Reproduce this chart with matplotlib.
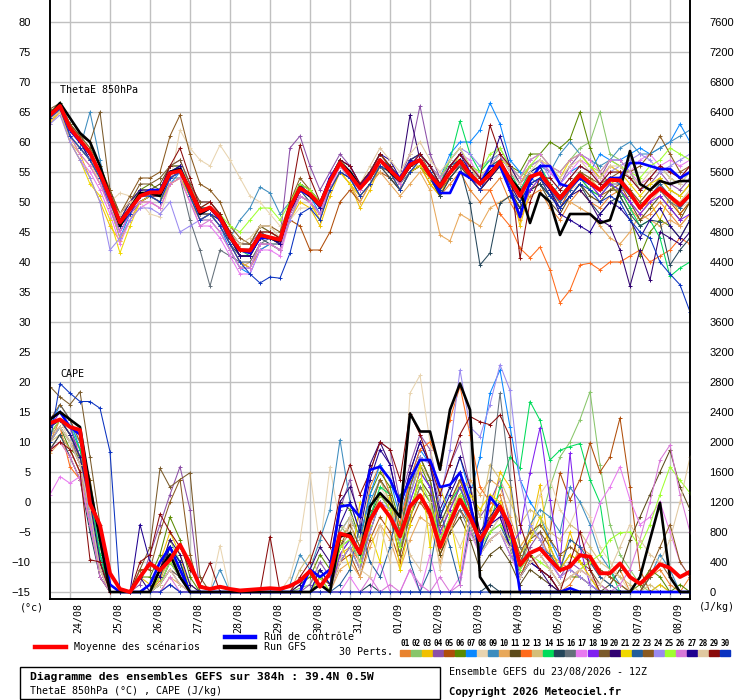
import numpy as np
import matplotlib
matplotlib.use('Agg')
import matplotlib.pyplot as plt
from matplotlib.lines import Line2D
from matplotlib.patches import Rectangle

plt.rcParams['font.family'] = ['Liberation Sans', 'DejaVu Sans']
MONO = 'DejaVu Sans Mono'

W, H = 740, 700

# 6-hourly steps, 23/08 12Z -> +384h
HOURS = np.arange(0, 385, 6)
DAYS = ['24/08', '25/08', '26/08', '27/08', '28/08', '29/08', '30/08', '31/08',
        '01/09', '02/09', '03/09', '04/09', '05/09', '06/09', '07/09', '08/09']
PERT_COLORS = ['#e8822e', '#88c66a', '#f0c000', '#8c4fa8', '#b04e0a', '#5a8a00',
               '#0a88ff', '#e8d4b0', '#3c8cbe', '#e8a85a', '#5c4a1a', '#ff6a1a',
               '#d4be78', '#00dc5a', '#24465a', '#64707a', '#e87af0', '#8020f0',
               '#7a5a2a', '#300070', '#f0d800', '#225e9a', '#8a5a20', '#9a8af0',
               '#a0ff30', '#d878d8', '#200090', '#e0c8a0', '#8a0a0a', '#0a32c0']

# ThetaE 850hPa (degC), perturbations 01..30
T01 = [64, 65.5, 61, 59, 57, 53, 50, 45, 48, 50, 51, 50, 53, 54, 51, 47, 48, 46, 43, 40, 39, 42,
       43, 42, 48, 51, 50, 48, 52, 55, 53, 51, 53, 56, 54, 52, 55, 56, 53, 51, 53, 55,
       52, 50, 52, 54, 50, 47, 51, 52, 49, 47, 50, 52, 50, 49, 51, 52, 49, 47, 48, 50, 48, 46, 48]
T02 = [65, 66.5, 63, 61, 59, 56, 52, 47, 49, 52, 52, 52, 56, 56, 53, 49, 50, 48, 45, 43, 43, 46,
       45, 44, 50, 53, 52, 50, 54, 57, 55, 53, 55, 58, 56, 54, 57, 58, 56, 54, 56, 58,
       56, 55, 57, 59, 56, 54, 57, 58, 56, 55, 57, 59, 60, 65, 58, 57, 55, 52, 54, 56, 54, 53, 55]
T03 = [63.5, 65, 61, 58, 54, 50, 46, 43.5, 47, 50, 51, 50, 54, 55, 52, 48, 49, 47, 44, 41, 41, 44,
       44, 43, 47, 50, 49, 46, 51, 55, 53, 49, 52, 56, 55, 53, 56, 56, 53, 51, 55, 58,
       56, 54, 56, 57, 53, 46, 52, 54, 51, 50, 53, 55, 54, 52, 53, 54, 51, 49, 50, 47, 51, 48, 50]
T04 = [64, 66, 62, 60, 58, 55, 51, 47, 49, 51, 52, 52, 56, 57, 53, 50, 50, 48, 45, 43, 43, 45,
       45, 44, 59, 61, 56, 52, 55, 58, 56, 53, 55, 58, 56, 54, 58, 66, 58, 54, 56, 57,
       55, 54, 56, 58, 55, 53, 56, 57, 55, 53, 56, 58, 56, 54, 57, 56, 54, 52, 53, 55, 53, 52, 54]
T05 = [64, 65.5, 61, 59, 57, 54, 50, 46, 48, 50, 51, 51, 54, 55, 51, 48, 48, 47, 44, 41, 41, 44,
       44, 43, 47, 46, 42, 42, 45, 50, 52, 50, 53, 55, 54, 52, 55, 56, 54, 52, 54, 56,
       54, 52, 54, 56, 52, 49, 52, 53, 51, 49, 52, 54, 52, 51, 52, 53, 50, 48, 50, 52, 50, 48, 50]
T06 = [65, 66, 63, 60, 58, 55, 51, 47, 50, 52, 53, 52, 55, 56, 52, 49, 49, 47, 44, 42, 42, 45,
       44, 44, 49, 53, 51, 50, 54, 57, 55, 52, 54, 57, 56, 54, 56, 57, 55, 53, 55, 57,
       56, 54, 56, 57, 56, 55, 58, 58, 60, 59, 60.5, 65, 59, 55, 53, 51, 48, 41, 45, 47, 46, 44, 47]
T07 = [64.5, 66, 62, 60, 57, 54, 49, 44, 48, 50, 51, 50, 53, 55, 51, 47, 48, 46, 42, 39, 38, 42,
       43, 42, 48, 52, 51, 48, 53, 56, 54, 52, 54, 57, 55, 53, 56, 58, 56, 54, 58, 60,
       60, 62, 66.5, 63, 57, 55, 54, 53, 51, 53, 55, 56, 55, 58, 57, 57, 58, 59, 58, 59, 60, 63, 60]
T08 = [64, 65, 61, 59, 57, 53, 50, 51.5, 51, 50, 48, 47.5, 53, 62, 59, 57, 56, 59.5, 57, 54, 51, 50,
       48, 46, 47, 49, 49, 48, 52, 55, 54, 52, 54, 57, 55, 53, 56, 57, 55, 53, 55, 56,
       55, 53, 55, 56, 53, 51, 53, 54, 52, 50, 52, 53, 51, 50, 52, 52, 50, 48, 50, 52, 50, 49, 50]
T09 = [64, 66, 61, 59, 65, 57, 50, 47, 49, 51, 52, 51, 55, 56, 52, 48, 49, 47, 44, 47, 49, 52.5,
       51.5, 48, 50, 53, 52, 50, 54, 57, 55, 53, 55, 58, 56, 53, 56, 57, 54, 52, 55, 57,
       55, 53, 55, 57, 54, 52, 55, 56, 55, 58, 60, 58, 57, 56, 57, 59, 60, 58, 58, 59, 60, 61, 62]
T10 = [63, 65, 60, 58, 56, 53, 49, 44, 47, 50, 50, 49, 53, 54, 50, 47, 47, 45, 42, 39, 40, 43,
       43, 42, 47, 51, 50, 47, 52, 55, 53, 50, 53, 55, 53, 51, 53, 55, 52, 44.5, 43.5, 48,
       47, 46, 49, 50, 51, 49, 53, 54, 53, 51, 50, 49, 48, 46, 44, 43, 45, 48, 47, 46, 47, 46, 48]
T11 = [65, 66, 62, 60, 58, 54, 51, 48, 50, 52, 52, 53, 56, 56, 52, 48, 49, 47, 44, 41, 41, 44,
       44, 44, 49, 53, 51, 49, 53, 56, 54, 52, 54, 57, 55, 52, 55, 56, 54, 51, 54, 56,
       54, 52, 54, 56, 52, 49, 52, 53, 50, 48, 51, 53, 51, 50, 52, 52, 50, 47, 49, 51, 49, 47, 50]
T12 = [64, 65.5, 62, 60, 58, 55, 51, 46, 49, 51, 51, 51, 54, 55, 52, 48, 49, 47, 44, 42, 42, 44,
       44, 43, 49, 52, 51, 49, 53, 56, 54, 52, 54, 56, 55, 53, 56, 57, 54, 52, 55, 57,
       54, 52, 52, 48, 46, 42.3, 40.7, 42.5, 38.7, 33.2, 35.3, 39.5, 39.8, 38.7, 40, 40,
       41, 42, 40, 41, 42, 44, 43]
T13 = [64, 65, 61, 59, 57, 54, 50, 47, 50, 52, 52, 51, 55, 55, 51, 48, 49, 47, 44, 42, 42, 45,
       45, 44, 49, 52, 51, 49, 53, 56, 55, 53, 55, 57, 56, 53, 56, 57, 55, 52, 55, 57,
       56, 53, 55, 57, 53, 50, 54, 55, 53, 51, 53, 55, 54, 52, 54, 54, 52, 50, 52, 53, 51, 50, 52]
T14 = [64.5, 66, 62, 60, 58, 55, 51, 47, 49, 51, 52, 51, 55, 55, 52, 48, 49, 47, 44, 42, 41, 44,
       44, 43, 49, 52, 51, 49, 53, 57, 55, 53, 55, 57, 56, 54, 57, 58, 56, 53, 57, 63.5,
       58, 55, 57, 58, 55, 52, 55, 56, 53, 51, 53, 54, 52, 51, 53, 52, 49, 46, 47, 44, 37.6, 39, 40]
T15 = [64, 65.5, 61, 59, 57, 54, 50, 46, 48, 50, 51, 50, 54, 55, 51, 48, 48, 47, 43, 41, 41, 44,
       43, 43, 48, 52, 50, 48, 52, 55, 54, 51, 53, 56, 54, 52, 55, 56, 54, 51, 54, 56,
       49.8, 39.5, 41.5, 49.8, 51, 49, 52, 53, 51, 49, 51, 53, 50, 48, 50, 51, 48, 46, 47, 46.7,
       39.5, 42, 44]
T16 = [64, 65.5, 61, 59, 57, 54, 50, 46, 48, 50, 51, 50, 54, 54, 47, 42, 36, 42, 41, 40, 40, 43,
       44, 43, 48, 51, 50, 48, 52, 55, 54, 52, 54, 56, 55, 53, 55, 57, 55, 53, 55, 56,
       55, 53, 55, 57, 54, 52, 54, 55, 53, 51, 53, 55, 53, 51, 53, 53, 51, 49, 51, 52, 50, 49, 51]
T17 = [63.5, 65, 60, 57, 55, 52, 48, 43, 47, 49, 50, 49, 53, 54, 50, 46, 46, 44, 41, 38, 38, 42,
       42, 41, 47, 51, 50, 48, 52, 56, 54, 52, 54, 57, 55, 53, 56, 57, 55, 53, 56, 58,
       57, 54, 56, 58, 55, 53, 56, 57, 55, 53, 55, 57, 56, 53, 56, 55, 55, 57, 58, 56, 57, 56, 57]
T18 = [64, 66, 62, 60, 58, 54, 49, 45, 48, 50, 51, 50, 54, 55, 51, 47, 48, 46, 43, 40, 39, 43,
       43, 42, 48, 52, 51, 49, 54, 57, 56, 53, 55, 58, 56, 54, 57, 58, 56, 54, 57, 59,
       55, 53, 56, 58, 52, 48, 52, 54, 52, 50, 52, 54, 53, 51, 53, 52, 50, 48, 50, 51, 49, 47, 48]
T19 = [65.5, 66.5, 63, 61, 60, 65, 52, 48, 50, 53, 53, 54, 56, 57, 53, 50, 50, 48, 45, 43, 43, 46,
       45, 44, 50, 53, 52, 50, 54, 57, 55, 53, 55, 58, 56, 54, 56, 58, 55, 53, 55, 57,
       55, 53, 55, 57, 54, 51, 54, 55, 53, 51, 53, 55, 53, 52, 54, 54, 52, 50, 52, 54, 52, 51, 53]
T20 = [64, 66, 62, 60, 57, 54, 50, 46, 49, 51, 51, 51, 54, 55, 52, 48, 49, 47, 44, 41, 41, 44,
       44, 43, 48, 52, 51, 49, 53, 57, 55, 52, 55, 57, 56, 54, 64.5, 57, 55, 52, 55, 57,
       54, 52, 54, 56, 53, 50, 53, 54, 52, 49, 51, 52, 50, 47, 46, 42, 36, 42, 37, 45, 44, 43, 45]
T21 = [63.5, 65, 60, 57, 53, 51, 47, 41.5, 46, 50, 51, 50, 53, 54, 51, 47, 48, 46, 43, 40, 39, 43,
       43, 42, 47, 51, 50, 47, 52, 55, 53, 51, 53, 56, 55, 52, 55, 56, 54, 52, 55, 57,
       55, 53, 55, 57, 56, 53, 56, 57, 56, 54, 57, 58, 56, 54, 56, 55, 53, 51, 53, 54, 52, 51, 53]
T22 = [64.5, 66, 62, 60, 58, 55, 51, 47, 49, 51, 52, 52, 55, 56, 52, 49, 49, 47, 44, 42, 42, 45,
       44, 44, 49, 53, 51, 50, 54, 57, 55, 53, 55, 57, 56, 54, 56, 57, 55, 53, 56, 57,
       55, 53, 56, 57, 53, 51, 54, 55, 52, 50, 52, 54, 53, 52, 54, 53, 51, 49, 51, 53, 51, 49, 51]
T23 = [65, 66, 63, 61, 59, 56, 52, 48, 51, 54, 54, 55, 61, 64.5, 58, 53, 52, 50, 46, 44, 43, 46,
       46, 45, 50, 54, 52, 50, 54, 57, 55, 53, 55, 57, 55, 53, 56, 57, 55, 52, 55, 57,
       55, 53, 55, 57, 54, 51, 54, 55, 53, 51, 53, 55, 54, 53, 54, 55, 55, 56, 58, 61, 58, 55, 56]
T24 = [63, 64.5, 60, 57, 54, 50, 42, 44, 47, 49, 49, 48, 50, 45, 46, 47, 47, 45, 42, 39, 39, 43,
       43, 42, 47, 51, 50, 48, 53, 56, 54, 52, 55, 57, 55, 53, 56, 58, 56, 54, 57, 59,
       58, 56, 57, 58, 56, 54, 56, 57, 54, 52, 54, 56, 55, 53, 55, 56, 57, 58, 57, 55, 56, 57, 58]
T25 = [64, 65.5, 61, 59, 57, 54, 50, 46, 49, 51, 52, 51, 55, 55, 51, 48, 49, 48, 46, 45, 47, 49,
       49, 47, 50, 53, 52, 50, 54, 57, 55, 53, 55, 58, 56, 54, 57, 58, 56, 54, 57, 59,
       56, 55, 58, 59, 56, 54, 56, 58, 56, 55, 57, 58, 56, 55, 57, 56, 55, 54, 56, 57, 59, 58, 57]
T26 = [64, 65.5, 61, 58, 56, 53, 49, 45, 48, 50, 50, 49, 53, 54, 50, 46, 47, 45, 42, 39, 39, 43,
       43, 42, 48, 51, 50, 48, 53, 56, 54, 52, 54, 57, 55, 53, 56, 58, 56, 54, 56, 58,
       56, 54, 56, 58, 56, 54, 57, 58, 56, 55, 57, 58, 57, 55, 57, 57, 55, 53, 54, 56, 55, 54, 56]
T27 = [64.5, 66, 62, 60, 58, 55, 51, 47, 50, 52, 52, 52, 55, 56, 52, 48, 49, 47, 44, 41, 41, 44,
       44, 43, 49, 52, 51, 49, 54, 57, 56, 53, 55, 58, 57, 54, 57, 58, 56, 53, 56, 58,
       55, 53, 56, 61, 56, 53, 55, 56, 52, 48, 47, 46, 45, 48, 50, 49, 47, 44, 47, 49, 46, 44, 47]
T28 = [64, 65, 61, 59, 57, 54, 50, 48, 50, 51, 51, 50, 54, 55, 52, 48, 49, 47, 45, 43, 44, 46,
       46, 44, 49, 52, 51, 50, 54, 56, 55, 53, 56, 59, 57, 55, 58, 60, 57, 55, 57, 59,
       56, 54, 56, 58, 55, 53, 55, 57, 56, 54, 56, 57, 55, 54, 56, 56, 54, 53, 55, 56, 54, 53, 55]
T29 = [64.5, 66, 62, 60, 58, 55, 51, 47, 49, 51, 52, 52, 56, 59, 54, 49, 50, 48, 45, 42, 42, 45,
       45, 44, 50, 59.5, 54, 50, 54, 57, 56, 53, 55, 58, 56, 54, 56, 58, 56, 53, 56, 58,
       56, 54, 62.8, 58, 56, 40.6, 50, 54, 54, 52, 54, 56, 55, 53, 55, 55, 54, 52, 54, 56, 55, 54, 56]
T30 = [64, 65.5, 61, 59, 57, 54, 50, 46, 48, 51, 51, 50, 54, 55, 51, 47, 48, 46, 43, 40, 38, 36.5,
       37.5, 37.3, 41.5, 48, 49, 47, 52, 55, 54, 51, 53, 56, 55, 52, 55, 57, 55, 52, 55, 57,
       54, 52, 55, 56, 52, 50, 53, 54, 51, 49, 51, 53, 52, 50, 51, 50, 47, 45, 44, 40, 38, 36.2, 31.7]

THETA_MEAN = [64.5, 66.0, 62.3, 60.3, 58.2, 54.8, 50.8, 46.6, 48.8, 51.0, 51.6, 51.6, 54.8, 55.2,
              52.0, 48.4, 49.1, 47.4, 44.2, 42.0, 41.9, 44.5,
              44.1, 43.7, 49.1, 52.3, 51.3, 49.5, 53.5, 56.5, 54.5, 52.3, 54.2, 57.0, 55.3, 53.7,
              56.2, 57.0, 54.5, 52.6, 54.9, 56.8,
              54.6, 53.0, 54.6, 56.7, 53.7, 51.0, 54.2, 54.8, 52.6, 50.6, 52.6, 54.5, 53.2, 52.0,
              53.7, 53.6, 51.5, 49.0, 50.9, 52.3, 50.9, 49.5, 51.2]
THETA_CTRL = [64.5, 66, 62, 60, 58, 55, 51, 46.5, 49, 51, 52, 52, 55, 55.5, 52, 48, 49, 47, 44, 42,
              41.5, 44,
              44, 43.5, 49, 52, 51, 49.5, 54, 56.5, 55, 52.5, 54.5, 57, 55.5, 54, 56.5, 57, 54.5,
              51.5, 51.5, 55,
              54, 53, 56, 56, 52, 47.5, 53.5, 56, 56, 53, 52.5, 54, 53, 52, 54, 54, 56.5, 56.5, 56,
              55.5, 55.5, 54, 55]
THETA_GFS = [64.5, 66.5, 64, 61.5, 60, 56, 51, 46, 49, 51.5, 51.5, 51, 55, 55.5, 52, 48, 49, 47.5,
             44, 42, 42, 44.5,
             44, 43.5, 49, 52.5, 51, 49.5, 53.5, 56.5, 55, 52.5, 54, 57, 55, 53.5, 56, 57, 54.5,
             52.5, 55, 57,
             54.5, 53, 55, 56.5, 54, 52, 46.5, 51.5, 50, 44.5, 48, 48, 48, 46.5, 47, 52, 58.5, 53,
             52, 53.5, 53, 53.5, 53.5]

# CAPE (J/kg), perturbations 01..30
C01 = [2000, 2300, 2100, 1900, 1300, 400, 0, 0, 0, 0, 0, 150, 500, 300, 0, 0, 0, 0, 0, 0, 0, 0,
       0, 0, 0, 0, 0, 200, 0, 700, 900, 600, 1400, 1700, 1300, 800, 1500, 1800, 1500, 700, 1200, 1500,
       1200, 700, 1100, 1300, 800, 200, 500, 300, 200, 0, 100, 300, 400, 200, 100, 300, 0, 0, 200, 300,
       100, 0, 200]
C02 = [2300, 2400, 2200, 2000, 1500, 600, 100, 0, 0, 0, 0, 300, 700, 400, 100, 0, 0, 0, 0, 0, 0, 0,
       0, 0, 0, 50, 100, 300, 100, 900, 700, 400, 1100, 1500, 1200, 600, 1100, 1500, 1300, 600, 1000, 1300,
       900, 500, 800, 1000, 600, 300, 700, 900, 1400, 1800, 2000, 2300, 2670, 1700, 900, 500, 300, 100, 0, 100,
       0, 0, 0]
C03 = [2100, 2200, 2000, 1800, 1000, 200, 0, 0, 0, 200, 100, 400, 800, 500, 0, 0, 0, 0, 0, 0, 0, 0,
       0, 0, 0, 0, 0, 0, 0, 500, 600, 300, 900, 1200, 1000, 500, 1100, 1400, 1200, 500, 900, 1500,
       1100, 800, 1000, 1600, 1400, 600, 800, 1430, 500, 300, 800, 400, 200, 0, 0, 0, 0, 0, 0, 100,
       0, 0, 0]
C04 = [2200, 2300, 2100, 1700, 900, 200, 0, 0, 0, 100, 500, 900, 1300, 1670, 1100, 0, 0, 0, 0, 0, 0, 0,
       0, 0, 0, 0, 100, 400, 200, 1100, 1500, 900, 1600, 2000, 1900, 1200, 1700, 2100, 1900, 1300, 1700, 2000,
       1400, 1000, 1200, 1500, 900, 300, 600, 800, 400, 200, 400, 300, 200, 0, 0, 0, 0, 0, 0, 0,
       0, 0, 0]
C05 = [1900, 2100, 1900, 1600, 1000, 300, 0, 0, 0, 0, 0, 100, 300, 100, 0, 0, 0, 0, 0, 0, 0, 0,
       0, 0, 0, 0, 0, 100, 0, 400, 500, 200, 700, 1000, 800, 400, 900, 1200, 1000, 500, 800, 1100,
       900, 500, 700, 800, 600, 200, 500, 600, 800, 1590, 1230, 1500, 1990, 1600, 1800, 2320, 1400, 300, 0, 0,
       0, 0, 0]
C06 = [2000, 2200, 1900, 1800, 1200, 500, 0, 0, 0, 200, 200, 500, 1000, 700, 200, 0, 0, 0, 0, 0, 0, 0,
       0, 0, 0, 100, 200, 500, 300, 1200, 1100, 700, 1300, 1600, 1400, 900, 1300, 1700, 1400, 800, 1100, 1400,
       1000, 600, 900, 1100, 600, 200, 400, 500, 300, 100, 200, 200, 100, 0, 0, 0, 0, 100, 300, 200,
       0, 100, 0]
C07 = [2200, 2500, 2300, 1900, 1300, 500, 100, 0, 0, 0, 0, 300, 600, 400, 0, 0, 0, 0, 0, 0, 0, 0,
       0, 0, 0, 0, 0, 300, 100, 800, 1000, 700, 1300, 1700, 1500, 1000, 1500, 1900, 1700, 1000, 1400, 1800,
       1300, 1800, 2650, 2960, 2200, 1500, 1200, 1000, 700, 400, 300, 200, 100, 0, 0, 0, 0, 0, 0, 0,
       0, 0, 0]
C08 = [2100, 2300, 2000, 1700, 1100, 300, 0, 0, 0, 0, 0, 100, 400, 200, 0, 0, 0, 620, 0, 0, 0, 0,
       0, 0, 200, 700, 1590, 600, 1670, 900, 800, 400, 1000, 1400, 1200, 600, 2650, 2890, 2000, 900, 1100, 1300,
       1000, 600, 800, 1000, 900, 400, 700, 1300, 1500, 1100, 900, 1200, 1000, 600, 400, 200, 0, 0, 0, 0,
       0, 0, 0]
C09 = [2000, 2200, 2000, 1700, 1100, 400, 0, 0, 0, 0, 0, 200, 500, 300, 0, 0, 0, 300, 0, 0, 0, 0,
       0, 0, 100, 500, 300, 700, 1100, 2030, 1200, 800, 1200, 1500, 1300, 700, 1200, 1600, 1400, 700, 1000, 1200,
       900, 500, 700, 800, 500, 300, 900, 1100, 1000, 800, 1400, 1200, 900, 500, 300, 100, 0, 0, 200, 500,
       300, 0, 0]
C10 = [1850, 2000, 1800, 1500, 900, 200, 0, 0, 0, 0, 0, 0, 200, 100, 0, 0, 0, 0, 0, 0, 0, 0,
       0, 0, 0, 0, 0, 100, 0, 300, 400, 200, 600, 900, 700, 300, 700, 1000, 900, 400, 800, 1300,
       1500, 1300, 1500, 1400, 1000, 600, 800, 700, 500, 400, 300, 600, 500, 300, 200, 100, 0, 0, 0, 0,
       0, 0, 0]
C11 = [2200, 2300, 2100, 1800, 1200, 400, 0, 0, 0, 0, 100, 300, 600, 300, 0, 0, 0, 0, 0, 0, 0, 0,
       0, 0, 0, 0, 0, 200, 100, 600, 800, 500, 1000, 1300, 1100, 600, 1000, 1300, 1100, 500, 800, 1000,
       700, 300, 500, 600, 400, 100, 300, 200, 100, 0, 0, 0, 0, 0, 100, 300, 700, 1000, 1300, 1600,
       1890, 1400, 1100]
C12 = [2100, 2200, 1670, 1500, 900, 300, 0, 0, 0, 0, 0, 100, 300, 200, 0, 0, 0, 0, 0, 0, 0, 0,
       0, 0, 0, 0, 0, 0, 0, 400, 600, 400, 900, 1300, 1200, 900, 1500, 1900, 2000, 1700, 2300, 2740,
       2100, 1400, 1200, 1100, 700, 300, 500, 600, 400, 200, 300, 200, 100, 0, 0, 0, 0, 0, 0, 0,
       0, 0, 0]
C13 = [2000, 2100, 1900, 1600, 1000, 300, 0, 0, 0, 0, 0, 200, 400, 200, 0, 0, 0, 0, 0, 0, 0, 0,
       0, 0, 0, 300, 500, 200, 300, 800, 1000, 700, 1100, 1500, 1200, 800, 1300, 1700, 1500, 800, 1100, 1500,
       1400, 1000, 1700, 1500, 1200, 900, 1100, 1000, 800, 700, 900, 800, 600, 400, 300, 200, 100, 0, 100, 0,
       0, 0, 0]
C14 = [2300, 2400, 2200, 1900, 1300, 500, 0, 0, 0, 0, 0, 200, 600, 400, 0, 0, 0, 0, 0, 0, 0, 0,
       0, 0, 0, 0, 0, 200, 0, 600, 700, 500, 1000, 1400, 1300, 800, 1400, 1800, 1500, 900, 1200, 1400,
       1000, 600, 900, 1400, 1800, 1650, 2540, 2290, 1760, 1890, 1940, 1980, 1500, 1190, 300, 0, 0, 0, 0, 0,
       0, 0, 0]
C15 = [1900, 2100, 1800, 1500, 800, 200, 0, 0, 0, 0, 0, 0, 100, 0, 0, 0, 0, 0, 0, 0, 0, 0,
       0, 0, 0, 0, 0, 0, 0, 0, 0, 0, 100, 0, 0, 0, 0, 0, 0, 0, 0, 0,
       0, 0, 100, 0, 0, 0, 0, 0, 0, 0, 0, 0, 0, 0, 0, 0, 0, 0, 0, 0,
       0, 0, 0]
C16 = [2100, 2200, 2000, 1700, 1100, 300, 0, 0, 0, 0, 0, 100, 300, 200, 0, 0, 0, 0, 0, 0, 0, 0,
       0, 0, 0, 0, 0, 100, 0, 500, 700, 400, 800, 1200, 1000, 500, 1000, 1400, 1200, 600, 900, 1100,
       800, 600, 1500, 2650, 1500, 600, 400, 300, 200, 0, 0, 0, 0, 0, 0, 0, 0, 0, 0, 0,
       0, 0, 0]
C17 = [1300, 1540, 1450, 1540, 900, 300, 0, 0, 0, 0, 0, 0, 100, 0, 0, 0, 0, 0, 0, 0, 0, 0,
       0, 0, 0, 0, 0, 0, 0, 0, 200, 0, 0, 400, 0, 0, 300, 0, 500, 0, 0, 200,
       1000, 600, 900, 1000, 700, 300, 500, 600, 400, 200, 300, 500, 800, 1190, 1400, 1670, 1230, 900, 1000, 1200,
       800, 400, 200]
C18 = [2200, 2400, 2200, 1800, 1100, 400, 0, 0, 0, 0, 0, 100, 400, 200, 0, 0, 0, 0, 0, 0, 0, 0,
       0, 0, 0, 0, 0, 200, 0, 500, 700, 400, 900, 1300, 1100, 700, 1200, 1600, 1400, 800, 1100, 1400,
       1100, 700, 1000, 1100, 600, 800, 1590, 2190, 1230, 400, 1850, 600, 100, 0, 0, 0, 0, 0, 0, 0,
       0, 0, 0]
C19 = [2740, 2600, 2500, 2670, 1800, 900, 100, 0, 0, 300, 600, 1650, 1400, 1500, 1590, 200, 0, 0, 0, 0, 0, 0,
       0, 0, 0, 0, 0, 100, 0, 400, 600, 300, 800, 1200, 1000, 500, 1100, 1500, 1300, 600, 1000, 1300,
       1000, 600, 900, 1100, 800, 400, 700, 800, 600, 300, 500, 400, 300, 100, 0, 0, 0, 0, 200, 400,
       200, 0, 0]
C20 = [2100, 2300, 2100, 1800, 1200, 400, 0, 0, 0, 200, 0, 300, 700, 500, 100, 0, 0, 0, 0, 0, 0, 0,
       0, 0, 0, 100, 300, 600, 400, 1200, 1400, 1000, 1700, 2000, 1700, 1100, 1600, 2000, 1700, 1100, 1400, 1800,
       1400, 800, 1000, 1200, 700, 200, 400, 300, 100, 0, 0, 0, 0, 0, 0, 0, 0, 0, 0, 0,
       0, 0, 0]
C21 = [2000, 2200, 2000, 1700, 1000, 300, 0, 0, 0, 0, 0, 200, 500, 300, 0, 0, 0, 0, 0, 0, 0, 0,
       0, 0, 0, 0, 0, 200, 0, 700, 300, 1200, 800, 400, 1300, 300, 900, 1700, 600, 1400, 1000, 300,
       1300, 1100, 1300, 1200, 900, 500, 700, 1000, 600, 300, 500, 400, 200, 0, 0, 0, 0, 0, 0, 0,
       0, 0, 0]
C22 = [2200, 2300, 2100, 1800, 1200, 400, 0, 0, 0, 0, 0, 100, 400, 200, 0, 0, 0, 0, 0, 0, 0, 0,
       0, 0, 0, 0, 0, 0, 0, 100, 300, 900, 400, 200, 600, 1300, 400, 0, 300, 1100, 600, 100,
       900, 500, 800, 900, 600, 300, 500, 600, 500, 300, 700, 600, 400, 200, 100, 0, 0, 0, 0, 0,
       0, 0, 0]
C23 = [2300, 2500, 2300, 2000, 1500, 700, 0, 0, 0, 300, 300, 800, 1200, 1500, 500, 0, 0, 0, 0, 0, 0, 0,
       0, 0, 0, 0, 0, 200, 100, 600, 900, 600, 1100, 1500, 1300, 800, 1400, 1800, 1500, 900, 1200, 1500,
       1100, 700, 1000, 1100, 900, 500, 800, 900, 700, 500, 600, 500, 400, 300, 200, 100, 0, 0, 300, 600,
       900, 400, 200]
C24 = [2000, 2200, 2000, 1700, 1000, 300, 0, 0, 0, 0, 0, 100, 300, 100, 0, 0, 0, 0, 0, 0, 0, 0,
       0, 0, 0, 0, 0, 100, 0, 400, 600, 300, 800, 1200, 1100, 700, 1300, 1800, 1700, 1200, 1900, 2960,
       2200, 2070, 2500, 3030, 2690, 1500, 900, 700, 400, 200, 300, 200, 100, 0, 0, 0, 0, 0, 0, 0,
       0, 0, 0]
C25 = [2100, 2300, 2100, 1800, 1200, 400, 0, 0, 0, 0, 0, 100, 400, 200, 0, 0, 0, 0, 0, 0, 0, 0,
       0, 0, 0, 0, 0, 200, 0, 600, 700, 400, 900, 1300, 1100, 600, 1100, 1500, 1200, 700, 1000, 1300,
       1000, 600, 800, 900, 700, 300, 500, 400, 300, 100, 200, 300, 400, 500, 700, 790, 800, 600, 900, 1300,
       1670, 1490, 1320]
C26 = [1900, 2000, 1800, 1500, 900, 200, 0, 0, 0, 0, 0, 0, 200, 0, 0, 0, 0, 0, 0, 0, 0, 0,
       0, 0, 0, 0, 0, 0, 0, 0, 0, 0, 200, 0, 100, 0, 300, 100, 0, 200, 0, 100,
       800, 500, 700, 800, 500, 200, 400, 500, 300, 100, 200, 300, 200, 100, 0, 100, 300, 700, 1200, 1760,
       1960, 1300, 800]
C27 = [2200, 2300, 2100, 1800, 1200, 400, 0, 0, 0, 900, 400, 200, 600, 400, 0, 0, 0, 0, 0, 0, 0, 0,
       0, 0, 0, 0, 0, 300, 100, 900, 1200, 800, 1500, 1900, 1700, 1100, 1600, 2000, 1700, 1000, 1300, 1600,
       1200, 700, 900, 1000, 600, 200, 400, 300, 200, 0, 0, 0, 0, 0, 0, 0, 0, 0, 0, 0,
       0, 0, 0]
C28 = [2100, 2200, 2000, 1700, 1100, 300, 0, 0, 0, 0, 0, 100, 300, 100, 0, 0, 0, 0, 0, 0, 0, 0,
       0, 0, 0, 0, 0, 100, 0, 400, 1000, 300, 200, 900, 400, 1200, 500, 300, 1200, 300, 900, 600,
       900, 500, 700, 800, 600, 200, 400, 500, 300, 100, 200, 300, 200, 100, 300, 600, 900, 700, 500, 400,
       700, 1200, 1800]
C29 = [1890, 2000, 1900, 1600, 430, 400, 0, 0, 0, 400, 500, 1040, 800, 600, 300, 100, 390, 0, 0, 0, 0, 0,
       740, 0, 0, 200, 400, 800, 600, 1300, 1700, 1300, 1600, 2000, 1900, 1500, 2380, 2100, 1700, 1300, 1700, 2100,
       2340, 2270, 2230, 2360, 2070, 900, 500, 300, 200, 0, 400, 800, 300, 0, 0, 0, 0, 0, 0, 0,
       0, 0, 0]
C30 = [2000, 2780, 2650, 2540, 2540, 2450, 1870, 0, 0, 0, 0, 0, 100, 0, 0, 0, 0, 0, 0, 0, 0, 0,
       0, 0, 0, 0, 0, 0, 0, 0, 0, 0, 0, 0, 0, 0, 0, 0, 0, 0, 0, 0,
       0, 0, 0, 0, 0, 0, 0, 0, 0, 0, 0, 0, 0, 0, 0, 0, 0, 0, 0, 0,
       0, 0, 0]

CAPE_MEAN = [2250, 2300, 2200, 2160, 1180, 890, 250, 40, 0, 200, 380, 290, 430, 630, 380, 70, 40, 70,
             40, 20, 30, 40,
             50, 40, 80, 150, 280, 70, 250, 780, 740, 520, 960, 1180, 1000, 740, 1140, 1290, 1050, 600,
             920, 1230,
             1000, 690, 920, 1140, 870, 360, 520, 580, 430, 290, 340, 490, 470, 250, 250, 380, 200, 110,
             230, 370, 320, 200, 270]
CAPE_CTRL = [2300, 2400, 2200, 2100, 1300, 800, 100, 0, 0, 0, 100, 400, 600, 300, 0, 0, 0, 0, 0, 0, 0, 0,
             0, 0, 0, 0, 300, 200, 300, 1140, 1160, 1000, 1630, 1670, 1500, 1200, 1500, 1760, 1760, 1400,
             1430, 1590,
             1200, 500, 1270, 1100, 900, 0, 0, 0, 0, 0, 50, 0, 0, 0, 0, 0, 0, 0, 0, 0, 0, 0, 0]
CAPE_GFS = [2300, 2400, 2300, 2200, 1400, 700, 0, 0, 0, 0, 0, 300, 500, 200, 0, 0, 0, 0, 0, 0, 0, 0,
            0, 0, 0, 0, 0, 100, 0, 740, 780, 500, 1140, 1320, 1180, 1000, 2380, 2140, 2140, 1630, 2430, 2780,
            2430, 200, 0, 0, 0, 0, 0, 0, 0, 0, 0, 0, 0, 0, 0, 0, 0, 200, 700, 1190, 200, 0, 0]

theta_perts = [T01, T02, T03, T04, T05, T06, T07, T08, T09, T10, T11, T12, T13, T14, T15,
               T16, T17, T18, T19, T20, T21, T22, T23, T24, T25, T26, T27, T28, T29, T30]
cape_perts = [C01, C02, C03, C04, C05, C06, C07, C08, C09, C10, C11, C12, C13, C14, C15,
              C16, C17, C18, C19, C20, C21, C22, C23, C24, C25, C26, C27, C28, C29, C30]
bad = [('T%02d' % (i + 1), len(s)) for i, s in enumerate(theta_perts) if len(s) != len(HOURS)]
bad += [('C%02d' % (i + 1), len(s)) for i, s in enumerate(cape_perts) if len(s) != len(HOURS)]
assert not bad, bad


def fx(x):
    return x / W


def fy(y):
    return 1 - y / H


fig = plt.figure(figsize=(W / 100, H / 100), dpi=100)
ax = fig.add_axes([fx(50), fy(599), 640 / W, 599 / H])
ax.set_xlim(0, 384)
ax.set_ylim(80 - 577 / 6, 80 + 22 / 6)
# right axis: CAPE, 0 J/kg at -15 and 80 J/kg per degree
ax2 = ax.twinx()
lo, hi = ax.get_ylim()
ax2.set_ylim((lo + 15) * 80, (hi + 15) * 80)

ax.set_yticks(range(-15, 81, 5))
ax.set_xticks(range(12, 384, 24))
ax.set_xticklabels([])
ax.grid(color='#c0c0c0', lw=1.0)
ax.set_axisbelow(True)
ax.tick_params(axis='x', length=0)
ax.tick_params(axis='y', length=0, pad=14, labelsize=8)
ax2.set_yticks(range(0, 7601, 400))
ax2.tick_params(axis='y', length=0, pad=14, labelsize=8)
for a in (ax, ax2):
    a.spines['top'].set_visible(False)
    for side in ('left', 'right', 'bottom'):
        a.spines[side].set_linewidth(1.2)

for s, c in zip(theta_perts, PERT_COLORS):
    ax.plot(HOURS, s, color=c, lw=0.75, marker='+', ms=3, mew=0.7)
ax.plot(HOURS, THETA_CTRL, color='#0000ff', lw=1.9)
ax.plot(HOURS, THETA_GFS, color='black', lw=1.9)
ax.plot(HOURS, THETA_MEAN, color='#ff0000', lw=2.8)

for s, c in zip(cape_perts, PERT_COLORS):
    ax2.plot(HOURS, s, color=c, lw=0.75, marker='+', ms=3, mew=0.7)
ax2.plot(HOURS, CAPE_CTRL, color='#0000ff', lw=1.9)
ax2.plot(HOURS, CAPE_GFS, color='black', lw=1.9)
ax2.plot(HOURS, CAPE_MEAN, color='#ff0000', lw=2.8)

# date labels next to each 00Z gridline
for k, d in enumerate(DAYS):
    ax.text(12 + 24 * k + 4.8, -4 / 599, d, transform=ax.get_xaxis_transform(),
            rotation=90, ha='center', va='top', family=MONO, fontsize=7.2)

fig.text(fx(60), fy(90), 'ThetaE 850hPa', family=MONO, fontsize=7.2, va='center')
fig.text(fx(60), fy(374), 'CAPE', family=MONO, fontsize=7.2, va='center')
fig.text(fx(20), fy(607), '(°c)', family=MONO, fontsize=7.2, va='center')
fig.text(fx(699), fy(607), '(J/kg)', family=MONO, fontsize=7.2, va='center')

# legend
fig.add_artist(Line2D([fx(35), fx(66)], [fy(647)] * 2, color='#ff0000', lw=3.2,
                      transform=fig.transFigure))
fig.text(fx(74), fy(647), 'Moyenne des scénarios', family=MONO, fontsize=7.2, va='center')
fig.add_artist(Line2D([fx(225), fx(255)], [fy(637)] * 2, color='#0000ff', lw=3.2,
                      transform=fig.transFigure))
fig.text(fx(264), fy(637), 'Run de contrôle', family=MONO, fontsize=7.2, va='center')
fig.add_artist(Line2D([fx(225), fx(255)], [fy(647)] * 2, color='black', lw=3.2,
                      transform=fig.transFigure))
fig.text(fx(264), fy(647), 'Run GFS', family=MONO, fontsize=7.2, va='center')
fig.text(fx(393), fy(652), '30 Perts.', family=MONO, fontsize=7.2, va='center', ha='right')
for k, c in enumerate(PERT_COLORS):
    x0 = 400 + 11.03 * k
    fig.add_artist(Rectangle((fx(x0), fy(656)), 10 / W, 6 / H, color=c,
                             transform=fig.transFigure))
    fig.text(fx(x0 + 5), fy(643), '%02d' % (k + 1), family=MONO, fontsize=5.5,
             fontweight='bold', ha='center', va='center')

# title box
fig.add_artist(Rectangle((fx(20), fy(699)), 420 / W, 32 / H, fill=False, ec='black', lw=1,
                         transform=fig.transFigure))
fig.text(fx(30), fy(677), 'Diagramme des ensembles GEFS sur 384h : 39.4N 0.5W', family=MONO,
         fontsize=8.2, fontweight='bold', va='center')
fig.text(fx(30), fy(691), 'ThetaE 850hPa (°C) , CAPE (J/kg)', family=MONO, fontsize=7.2,
         va='center')
fig.text(fx(449), fy(672), 'Ensemble GEFS du 23/08/2026 - 12Z', family=MONO, fontsize=7.2,
         va='center')
fig.text(fx(449), fy(692), 'Copyright 2026 Meteociel.fr', family=MONO, fontsize=7.6,
         fontweight='bold', va='center')

fig.savefig('out.png', dpi=100)
